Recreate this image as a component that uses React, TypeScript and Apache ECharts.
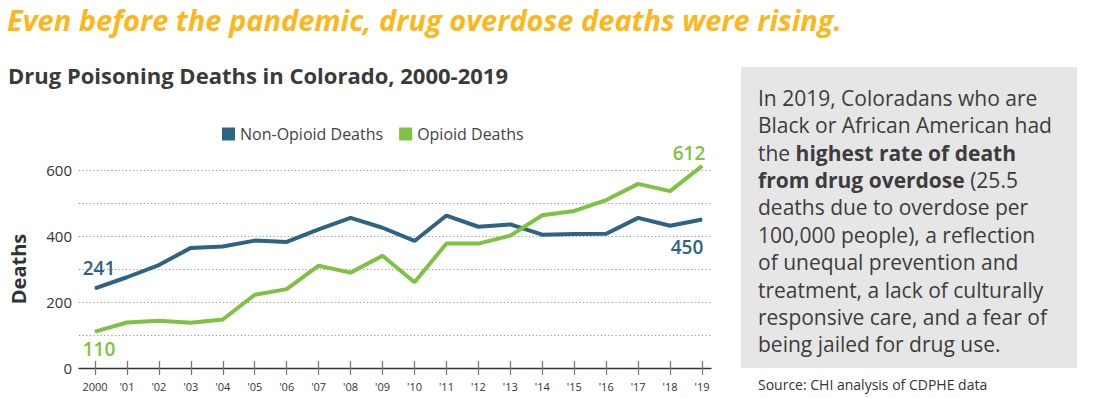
import React, { useEffect, useRef } from "react";
import * as echarts from "echarts";

const years = [2000, 2001, 2002, 2003, 2004, 2005, 2006, 2007, 2008, 2009, 2010, 2011, 2012, 2013, 2014, 2015, 2016, 2017, 2018, 2019];
const yearLabels = ["2000", "'01", "'02", "'03", "'04", "'05", "'06", "'07", "'08", "'09", "'10", "'11", "'12", "'13", "'14", "'15", "'16", "'17", "'18", "'19"];
const nonOpioid = [241, 275, 312, 364, 368, 386, 382, 420, 455, 425, 385, 462, 428, 435, 404, 406, 407, 455, 431, 450];
const opioid = [110, 138, 143, 137, 147, 222, 239, 310, 289, 340, 260, 377, 377, 401, 463, 476, 509, 558, 536, 612];
const yLabelValues = [0, 200, 400, 600];

const BLUE = "#2D6384";
const GREEN = "#7DC243";
const FONT = "'Open Sans', Lato, sans-serif";

const boxLines = [
  "In 2019, Coloradans who are",
  "Black or African American had",
  "the {b|highest rate of death}",
  "{b|from drug overdose} (25.5",
  "deaths due to overdose per",
  "100,000 people), a reflection",
  "of unequal prevention and",
  "treatment, a lack of culturally",
  "responsive care, and a fear of",
  "being jailed for drug use.",
];

// label offsets for first/last points [first, last]
function buildData(values: number[], color: string, firstPos: string, lastPos: string, firstOff: number[], lastOff: number[]) {
  return values.map((v, i) => {
    const item: any = { value: [years[i], v] };
    if (i === 0 || i === values.length - 1) {
      item.label = {
        show: true,
        position: i === 0 ? firstPos : lastPos,
        offset: i === 0 ? firstOff : lastOff,
        color,
        fontSize: 19,
        fontWeight: 600,
        fontFamily: FONT,
        formatter: String(v),
      };
    }
    return item;
  });
}

export default function App() {
  const ref = useRef<HTMLDivElement>(null);
  useEffect(() => {
    if (!ref.current) return;
    const chart = echarts.init(ref.current, null, { renderer: "svg" });
    const labelFor = (v: number) => {
      const idx = years.indexOf(Math.round(v));
      return idx >= 0 ? yearLabels[idx] : "";
    };
    chart.setOption({
      animation: false,
      backgroundColor: "#ffffff",
      textStyle: { fontFamily: FONT },
      legend: {
        left: 217,
        top: 121,
        icon: "rect",
        itemWidth: 13,
        itemHeight: 13,
        itemGap: 16,
        textStyle: { fontSize: 16, color: "#444", fontFamily: FONT },
        data: ["Non-Opioid Deaths", "Opioid Deaths"],
      },
      grid: { left: 74, right: 391, top: 170, bottom: 30, containLabel: false },
      xAxis: [
        {
          type: "value",
          min: 1999.5,
          max: 2019.28,
          splitLine: { show: false },
          axisLine: { show: true, lineStyle: { color: "#333", width: 1.3 } },
          axisTick: { show: true, length: 7, customValues: years, lineStyle: { color: "#777", width: 1.3 } },
          axisLabel: { customValues: years, formatter: labelFor, color: "#333", fontSize: 11, margin: 13, fontFamily: FONT },
        },
        {
          type: "value",
          position: "top",
          offset: -198,
          min: 1999.5,
          max: 2019.28,
          splitLine: { show: false },
          axisLine: { show: false },
          axisTick: { show: true, length: 7, customValues: years, lineStyle: { color: "#777", width: 1.3 } },
          axisLabel: { show: false },
        },
      ],
      yAxis: {
        type: "value",
        min: 0,
        max: 600,
        interval: 100,
        name: "Deaths",
        nameLocation: "middle",
        nameGap: 51,
        nameTextStyle: { fontSize: 20, fontWeight: "bold", color: "#333", fontFamily: FONT },
        axisLine: { show: false },
        axisTick: { show: false },
        axisLabel: { customValues: yLabelValues, color: "#333", fontSize: 15, margin: 7, fontFamily: FONT },
        splitLine: { show: true, lineStyle: { color: "#999", type: [1.2, 2.4], width: 1 } },
      },
      series: [
        {
          name: "Non-Opioid Deaths",
          type: "line",
          xAxisIndex: 0,
          data: buildData(nonOpioid, BLUE, "top", "bottom", [4, -5], [-15, 12]),
          color: BLUE,
          lineStyle: { width: 4, color: BLUE },
          symbol: "circle",
          symbolSize: 1,
          showSymbol: true,
          clip: false,
          z: 3,
        },
        {
          name: "Opioid Deaths",
          type: "line",
          xAxisIndex: 0,
          data: buildData(opioid, GREEN, "bottom", "top", [4, 2], [-13, 2]),
          color: GREEN,
          lineStyle: { width: 4, color: GREEN },
          symbol: "circle",
          symbolSize: 1,
          showSymbol: true,
          clip: false,
          z: 4,
        },
      ],
      graphic: [
        {
          type: "text",
          left: 7,
          top: 5,
          style: {
            text: "Even before the pandemic, drug overdose deaths were rising.",
            fill: "#FDB71A",
            font: `italic bold 29px ${FONT}`,
          },
        },
        {
          type: "text",
          left: 8,
          top: 64,
          style: {
            text: "Drug Poisoning Deaths in Colorado, 2000-2019",
            fill: "#3A3A3A",
            font: `bold 22px ${FONT}`,
          },
        },
        {
          type: "rect",
          shape: { x: 741, y: 67, width: 336, height: 301 },
          style: { fill: "#E6E6E6" },
          z: 0,
        },
        {
          type: "text",
          x: 758,
          y: 84,
          z: 1,
          style: {
            text: boxLines.join("\n"),
            fill: "#3C3C3C",
            font: `21px ${FONT}`,
            lineHeight: 27.4,
            rich: {
              b: { fontWeight: "bold", fontSize: 21, fontFamily: FONT, fill: "#3C3C3C", lineHeight: 27.4 },
            },
          },
        },
        {
          type: "text",
          x: 758,
          y: 377,
          style: {
            text: "Source: CHI analysis of CDPHE data",
            fill: "#333",
            font: `14px ${FONT}`,
          },
        },
      ],
    });
    return () => chart.dispose();
  }, []);
  return <div ref={ref} style={{ position: "fixed", left: 0, top: 0, width: 1102, height: 398 }} />;
}
